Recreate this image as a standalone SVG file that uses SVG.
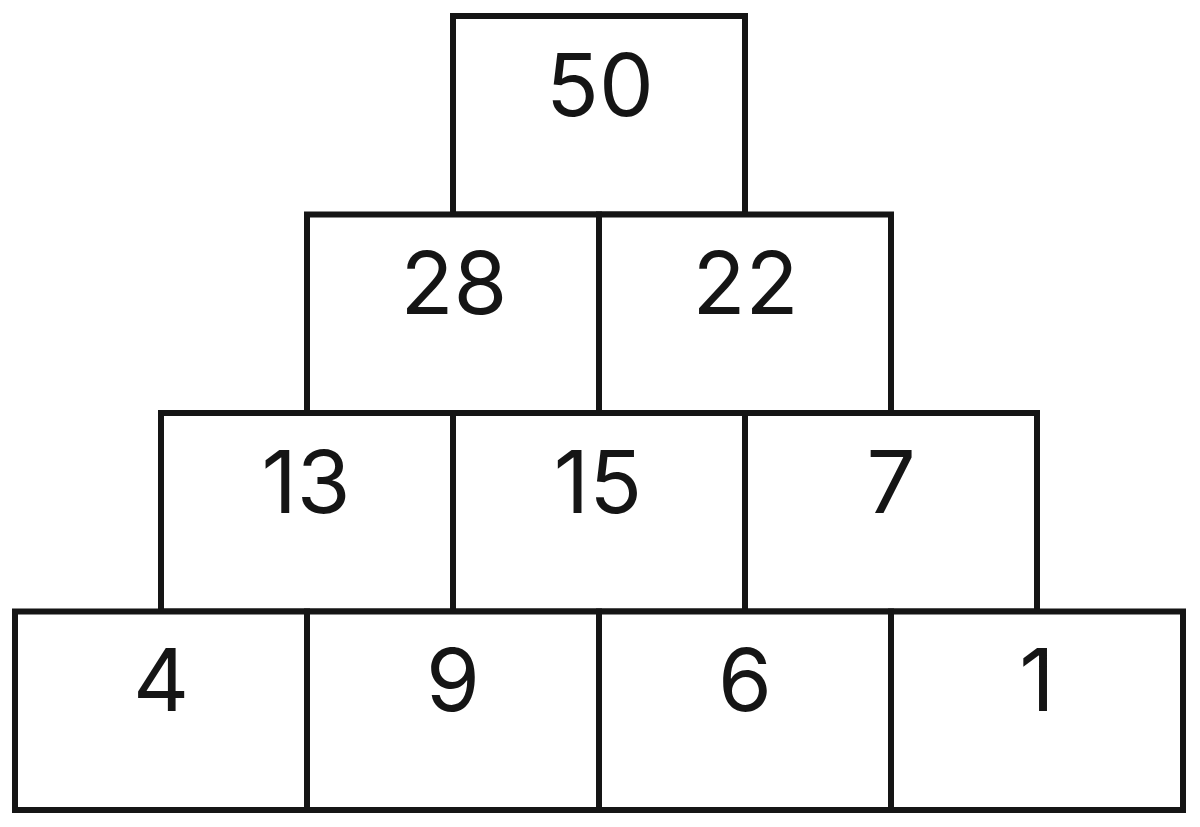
<svg xmlns="http://www.w3.org/2000/svg" width="1200" height="827" viewBox="0 0 1200 827">
<style>
.box{fill:#fff;stroke:#151515;stroke-width:6}
.num{font-family:Inter,"Liberation Sans",Arial,sans-serif;font-size:87px;fill:#151515;text-anchor:middle}
</style>
<rect width="1200" height="827" fill="#fff"/>
<g id="n50"><rect class="box" x="453" y="16" width="292" height="198.5"/><text class="num" x="600" y="115.5">50</text></g>
<g id="n28"><rect class="box" x="307" y="214.5" width="292" height="198.5"/><text class="num" x="454" y="314">28</text></g>
<g id="n22"><rect class="box" x="599" y="214.5" width="292" height="198.5"/><text class="num" x="745.5" y="314">22</text></g>
<g id="n13"><rect class="box" x="161" y="413" width="292" height="198.5"/><text class="num" x="306" y="512.5">13</text></g>
<g id="n15"><rect class="box" x="453" y="413" width="292" height="198.5"/><text class="num" x="598" y="512.5">15</text></g>
<g id="n7"><rect class="box" x="745" y="413" width="292" height="198.5"/><text class="num" x="891" y="512.5">7</text></g>
<g id="n4"><rect class="box" x="15" y="611.5" width="292" height="198.5"/><text class="num" x="161" y="711">4</text></g>
<g id="n9"><rect class="box" x="307" y="611.5" width="292" height="198.5"/><text class="num" x="453" y="711">9</text></g>
<g id="n6"><rect class="box" x="599" y="611.5" width="292" height="198.5"/><text class="num" x="745" y="711">6</text></g>
<g id="n1"><rect class="box" x="891" y="611.5" width="292" height="198.5"/><text class="num" x="1037" y="711">1</text></g>
<g id="connectors"></g>
</svg>
